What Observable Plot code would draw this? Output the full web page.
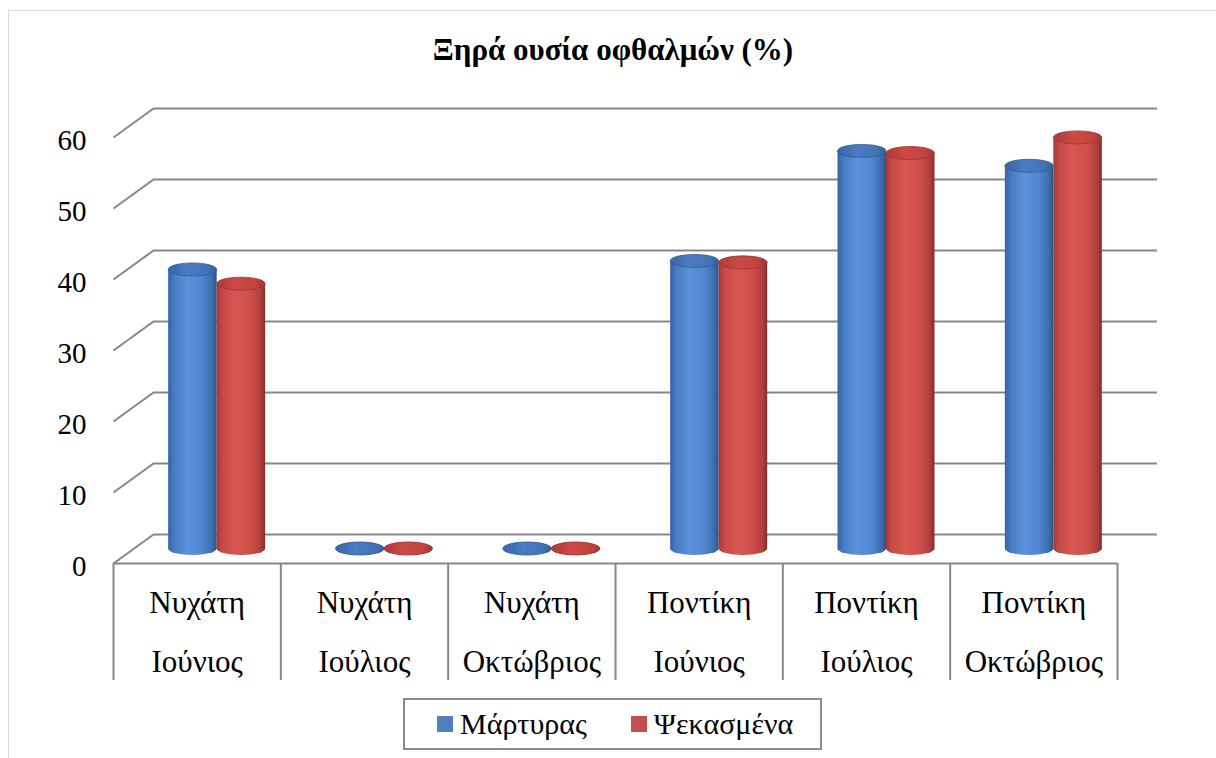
<!DOCTYPE html>
<html>
<head>
<meta charset="utf-8">
<script src="https://cdn.jsdelivr.net/npm/d3@7"></script>
<script src="https://cdn.jsdelivr.net/npm/@observablehq/plot@0.6"></script>
<style>
  html, body { margin: 0; padding: 0; background: #fff; }
  body { font-family: "Liberation Serif", "DejaVu Serif", "Noto Serif", "Times New Roman", Times, serif; color: #000; }
  #wrap { position: relative; width: 1216px; height: 758px; overflow: hidden; }
  #frameline { position: absolute; left: 8px; top: 10px; width: 1400px; height: 900px;
    border-left: 1.5px solid #d9d9d9; border-top: 1.5px solid #d9d9d9; pointer-events: none; }
  #title { position: relative; height: 80px; box-sizing: border-box; padding-top: 35px; padding-left: 10px;
    text-align: center; font-weight: bold; font-size: 31px; line-height: 30px; }
  #chart svg { display: block; }
  #legend { position: relative; margin-left: 403px; margin-top: 8px; width: 419px; height: 52px; box-sizing: border-box;
    border: 2px solid #8c8c8c; display: flex; align-items: center; font-size: 30px; }
  .sw { width: 16px; height: 16px; display: inline-block; margin-right: 7px; }
  .item { display: flex; align-items: center; }
</style>
</head>
<body>
<div id="wrap">
  <div id="frameline"></div>
  <div id="title">Ξηρά ουσία οφθαλμών (%)</div>
  <div id="chart"></div>
  <div id="legend"></div>
</div>
<script>
// ---- data ----
const sites = ["Νυχάτη", "Νυχάτη", "Νυχάτη", "Ποντίκη", "Ποντίκη", "Ποντίκη"];
const months = ["Ιούνιος", "Ιούλιος", "Οκτώβριος", "Ιούνιος", "Ιούλιος", "Οκτώβριος"];
const seriesNames = ["Μάρτυρας", "Ψεκασμένα"];
const control = [39.3, 0, 0, 40.5, 56.0, 53.9];
const sprayed = [37.3, 0, 0, 40.3, 55.7, 57.9];
const yTicks = [0, 10, 20, 30, 40, 50, 60];
const seriesColors = ["#4F81BD", "#C0504D"];

const FONT = '"Liberation Serif", "DejaVu Serif", "Noto Serif", "Times New Roman", Times, serif';
const nCat = sites.length;
const rows = [];
sites.forEach((s, i) => {
  rows.push({ i, series: seriesNames[0], value: control[i] });
  rows.push({ i, series: seriesNames[1], value: sprayed[i] });
});

// ---- geometry (pixels) ----
const W = 1216, H = 610;
const mL = 113, mR = 99, mT = 57, mB = 127;
const depthX = 40, depthY = 29;            // 3D depth of the back wall
const pxPerX = (W - mL - mR) / nCat;
const pxPerY = (H - mT - mB) / 60;
const barW = 48.5, capH = 13;
const half = pxPerX / 2;
const insetsFor = k => k === 0
  ? { insetLeft: half - barW, insetRight: half }
  : { insetLeft: half, insetRight: half - barW };

const gridStroke = "#878787";
const marks = [
  Plot.ruleY(yTicks, { stroke: gridStroke, strokeWidth: 2, dx: depthX, dy: -depthY }),
  Plot.link(yTicks, { x1: 0, y1: d => d, x2: depthX / pxPerX, y2: d => d + depthY / pxPerY, stroke: gridStroke, strokeWidth: 2 }),
  Plot.ruleY([0], { stroke: gridStroke, strokeWidth: 2 }),
  Plot.axisX({ ticks: d3.range(nCat + 1), tickSize: 117, tickFormat: () => "", label: null, stroke: gridStroke, strokeWidth: 2, strokeOpacity: 1 }),
  Plot.text(d3.range(nCat), { x: i => i + 0.5, frameAnchor: "bottom", text: i => sites[i] + "\n" + months[i],
    lineAnchor: "top", lineHeight: 1.9, fontSize: 31, dy: 8, fill: "#000", fontFamily: FONT }),
  Plot.axisY({ ticks: yTicks, tickSize: 0, tickPadding: 27, fontSize: 29, dy: 3, label: null, fill: "#000", fontFamily: FONT })
];

seriesNames.forEach((s, k) => {
  const data = rows.filter(d => d.series === s);
  const ins = insetsFor(k);
  const common = { x1: "i", x2: d => d.i + 1, ...ins, dx: depthX / 2, dy: -depthY / 2 };
  marks.push(Plot.rect(data, { ...common, y1: 0, y2: 0, insetTop: -capH / 2, insetBottom: -capH / 2,
    rx: barW / 2, ry: capH / 2, fill: `url(#body${k})` }));
  marks.push(Plot.rect(data.filter(d => d.value > 0), { ...common, y1: 0, y2: "value", fill: `url(#body${k})` }));
  marks.push(Plot.rect(data, { ...common, y1: "value", y2: "value", insetTop: -capH / 2, insetBottom: -capH / 2,
    rx: barW / 2, ry: capH / 2, fill: `url(#cap${k})`, stroke: `url(#rim${k})`, strokeWidth: 0.8 }));
});

const svg = Plot.plot({
  width: W, height: H,
  marginLeft: mL, marginRight: mR, marginTop: mT, marginBottom: mB,
  x: { type: "linear", domain: [0, nCat], axis: null, label: null },
  y: { domain: [0, 60], axis: null, label: null },
  style: { fontFamily: FONT, background: "transparent", overflow: "visible", color: "#000" },
  marks
});

const defs = d3.select(svg).insert("defs", ":first-child");
function grad(id, stops) {
  const g = defs.append("linearGradient").attr("id", id).attr("x1", 0).attr("x2", 1).attr("y1", 0).attr("y2", 0);
  stops.forEach(([o, c]) => g.append("stop").attr("offset", o).attr("stop-color", c));
}
grad("body0", [[0, "#3563A2"], [0.12, "#477BC3"], [0.4, "#5B92DB"], [0.7, "#5087CF"], [0.9, "#3F6EAF"], [1, "#2E5487"]]);
grad("body1", [[0, "#A63936"], [0.12, "#C64A46"], [0.4, "#D95752"], [0.7, "#CE4E4A"], [0.9, "#B1403D"], [1, "#872C2A"]]);
grad("cap0", [[0, "#3764A4"], [0.4, "#4A7CC2"], [0.8, "#4474B7"], [1, "#335E9C"]]);
grad("cap1", [[0, "#AE3B38"], [0.4, "#CB4A46"], [0.8, "#C2443F"], [1, "#A03633"]]);
grad("rim0", [[0, "#2F5A94"], [1, "#2F5A94"]]);
grad("rim1", [[0, "#9A3431"], [1, "#9A3431"]]);

document.getElementById("chart").appendChild(svg);

const legend = document.getElementById("legend");
seriesNames.forEach((s, k) => {
  const item = document.createElement("div");
  item.className = "item";
  item.style.marginLeft = k === 0 ? "32px" : "44px";
  const sw = document.createElement("span");
  sw.className = "sw";
  sw.style.background = seriesColors[k];
  const t = document.createElement("span");
  t.textContent = s;
  item.appendChild(sw); item.appendChild(t);
  legend.appendChild(item);
});
</script>
</body>
</html>
